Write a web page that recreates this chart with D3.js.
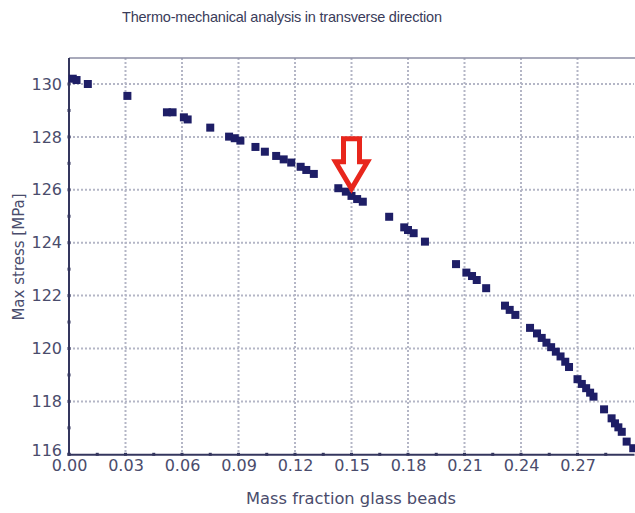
<!DOCTYPE html>
<html><head><meta charset="utf-8">
<script src="https://cdn.jsdelivr.net/npm/d3@7"></script>
<style>body{margin:0;background:#fff}svg{display:block}</style>
</head><body>
<svg id="c" width="635" height="513"></svg>
<script>
const title = "Thermo-mechanical analysis in transverse direction";
const xLabel = "Mass fraction glass beads";
const yLabel = "Max stress [MPa]";
const xTicks = [0, 0.03, 0.06, 0.09, 0.12, 0.15, 0.18, 0.21, 0.24, 0.27];
const yTicks = [116, 118, 120, 122, 124, 126, 128, 130];
const massFraction = [0.002,0.004,0.010,0.031,0.052,0.055,0.061,0.063,0.075,0.085,0.088,0.091,0.099,0.104,0.110,0.114,0.118,0.123,0.126,0.130,
  0.143,0.147,0.150,0.153,0.156,0.170,0.178,0.180,0.183,0.189,
  0.2055,0.211,0.214,0.2165,0.2215,0.2315,0.234,0.237,
  0.2448,0.2485,0.251,0.2535,0.256,0.2585,0.261,0.2635,0.2655,
  0.270,0.2723,0.2746,0.2767,0.2785,0.2841,0.2881,0.2899,0.2917,0.2935,0.2961,0.2996];
const maxStress = [130.2,130.15,130.0,129.55,128.93,128.93,128.74,128.66,128.35,128.01,127.95,127.86,127.62,127.44,127.28,127.15,127.03,126.87,126.75,126.60,
  126.06,125.93,125.77,125.65,125.55,124.98,124.58,124.48,124.36,124.04,
  123.19,122.87,122.74,122.59,122.28,121.62,121.46,121.27,
  120.78,120.57,120.40,120.22,120.05,119.88,119.70,119.50,119.30,
  118.84,118.66,118.50,118.33,118.18,117.70,117.36,117.17,117.02,116.85,116.48,116.23];
const markerAt = [0.15, 126.0];

(function () {
const svg = d3.select("#c");
const L = 69, R = 634, T = 58, B = 454.3;
const x = d3.scaleLinear().domain([0, 0.30]).range([L, R]);
const y = d3.scaleLinear().domain([116, 130]).range([B, 84]);
const txt = "#4a4c6c";
const font = "Liberation Sans, Arial, sans-serif";
const font2 = "DejaVu Sans, Verdana, sans-serif";

// grid
const grid = svg.append("g");
grid.selectAll(".gx").data(xTicks.slice(1)).join("line")
  .attr("x1", d => x(d)).attr("x2", d => x(d)).attr("y1", T).attr("y2", B)
  .attr("stroke", "#b4b6c6").attr("stroke-width", 2).attr("stroke-dasharray", "2,2");
grid.selectAll(".gy").data(yTicks.slice(1)).join("line")
  .attr("x1", L).attr("x2", R).attr("y1", d => y(d)).attr("y2", d => y(d))
  .attr("stroke", "#b4b6c6").attr("stroke-width", 2).attr("stroke-dasharray", "2,2");

// top frame
svg.append("line").attr("x1", L).attr("x2", 635).attr("y1", T).attr("y2", T)
  .attr("stroke", "#8c8ea4").attr("stroke-width", 1.5);

// axes
const xAxis = d3.axisBottom(x).tickValues(xTicks).tickFormat(d3.format(".2f")).tickSize(0).tickPadding(5);
const gx = svg.append("g").attr("transform", `translate(0,${B})`).call(xAxis);
gx.select(".domain").attr("stroke", "#34365e").attr("stroke-width", 2);
gx.selectAll("text").attr("fill", txt).attr("font-family", font2).attr("font-size", 16);
const xMinor = d3.range(0, 0.30, 0.015);
svg.append("g").selectAll("rect").data(xMinor).join("rect")
  .attr("x", d => x(d) - 1.5).attr("y", B - 1.5).attr("width", 3).attr("height", 3).attr("fill", "#34365e");

const yAxis = d3.axisLeft(y).tickValues(yTicks).tickFormat(d3.format("d")).tickSize(0).tickPadding(7);
const gy = svg.append("g").attr("transform", `translate(${L},0)`).call(yAxis);
gy.select(".domain").remove();
svg.append("line").attr("x1", L).attr("x2", L).attr("y1", T).attr("y2", B + 1)
  .attr("stroke", "#34365e").attr("stroke-width", 2);
gy.selectAll("text").attr("fill", txt).attr("font-family", font2).attr("font-size", 16);
gy.selectAll(".tick").filter(d => d === 116).select("text").attr("dy", "0.05em");
const yMinor = d3.range(116, 131, 1);
svg.append("g").selectAll("rect").data(yMinor).join("rect")
  .attr("x", L - 1.5).attr("y", d => y(d) - 1.5).attr("width", 3).attr("height", 3).attr("fill", "#34365e");

// points
const pts = massFraction.map((m, i) => [m, maxStress[i]]);
svg.append("g").selectAll("rect").data(pts).join("rect")
  .attr("x", d => x(d[0]) - 4).attr("y", d => y(d[1]) - 4)
  .attr("width", 8).attr("height", 8).attr("fill", "#1e1e66");

// arrow annotation
const ax = x(markerAt[0]), tipY = y(markerAt[1]) - 1;
const sw = 8, hw = 16, topY = tipY - 50, hy = tipY - 27;
const arrowPath = `M${ax - sw},${topY} L${ax + sw},${topY} L${ax + sw},${hy} L${ax + hw},${hy} L${ax},${tipY} L${ax - hw},${hy} L${ax - sw},${hy} Z`;
svg.append("path").attr("d", arrowPath).attr("fill", "#fff").attr("stroke", "#e8261c")
  .attr("stroke-width", 5).attr("stroke-linejoin", "miter");

// titles
svg.append("text").attr("x", 282).attr("y", 22).attr("text-anchor", "middle")
  .attr("font-family", font).attr("font-size", 14.5).attr("textLength", 320)
  .attr("fill", "#3a3c5a").text(title);
svg.append("text").attr("x", 351).attr("y", 504).attr("text-anchor", "middle")
  .attr("font-family", font2).attr("font-size", 16.3)
  .attr("fill", txt).text(xLabel);
svg.append("text").attr("transform", "translate(24,257) rotate(-90)").attr("text-anchor", "middle")
  .attr("font-family", font2).attr("font-size", 15)
  .attr("fill", txt).text(yLabel);
})();
</script>
</body></html>
